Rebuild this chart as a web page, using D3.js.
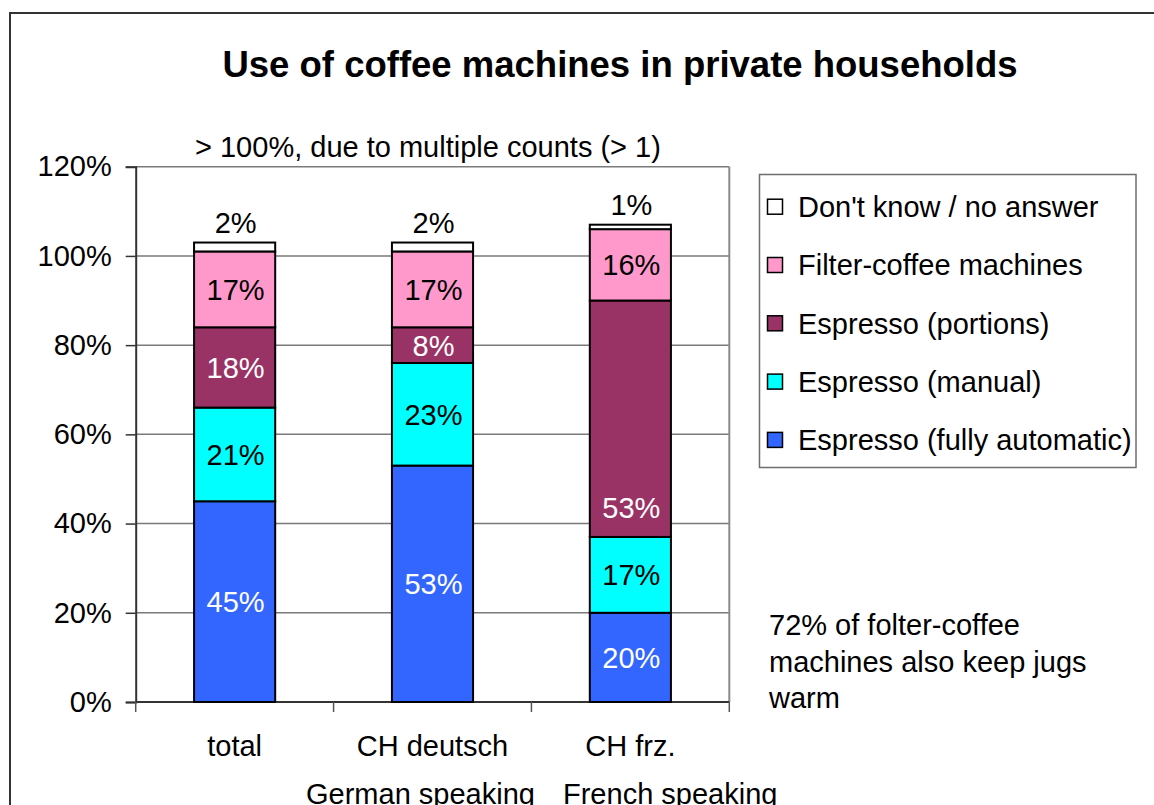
<!DOCTYPE html>
<html>
<head>
<meta charset="utf-8">
<script src="https://cdn.jsdelivr.net/npm/d3@7"></script>
<style>
  html, body { margin: 0; padding: 0; background: #fff; }
  svg { display: block; font-family: "Liberation Sans", Arial, sans-serif; }
</style>
</head>
<body>
<svg id="chart" width="1154" height="805"></svg>
<script>
// ---- data ----
const categories = ["total", "CH deutsch", "CH frz."];
const seriesNames = ["Espresso (fully automatic)", "Espresso (manual)", "Espresso (portions)", "Filter-coffee machines", "Don't know / no answer"];
const fullyAutomatic = [45, 53, 20];
const manual = [21, 23, 17];
const portions = [18, 8, 53];
const filterCoffee = [17, 17, 16];
const dontKnow = [2, 2, 1];
const seriesColors = ["#3366FF", "#00FFFF", "#993366", "#FF99CC", "#FFFFFF"];
const labelColors = ["#FFFFFF", "#000000", "#FFFFFF", "#000000", "#000000"];
const yTicks = [0, 20, 40, 60, 80, 100, 120];
const subLabels = ["German speaking", "French speaking"];
const noteAbove = "> 100%, due to multiple counts (> 1)";
const noteLines = ["72% of folter-coffee", "machines also keep jugs", "warm"];
const title = "Use of coffee machines in private households";

(function () {
const seriesValues = [fullyAutomatic, manual, portions, filterCoffee, dontKnow];
const rows = categories.map((c, i) => {
  const r = { cat: c };
  seriesNames.forEach((s, k) => r[s] = seriesValues[k][i]);
  return r;
});
const stacked = d3.stack().keys(seriesNames)(rows);

const svg = d3.select("#chart");
const FONT = 29;

// outer frame
svg.append("rect").attr("x", 10).attr("y", 13).attr("width", 1300).attr("height", 1000)
  .attr("fill", "none").attr("stroke", "#333").attr("stroke-width", 2);

// title
svg.append("text").attr("x", 620).attr("y", 77).attr("text-anchor", "middle")
  .attr("font-size", 36.5).attr("font-weight", "bold").text(title);

const pLeft = 135.7, pRight = 729.3, pTop = 166.7, pBottom = 702;
const x = d3.scaleBand().domain(categories).range([pLeft, pRight]).paddingInner(0.59).paddingOuter(0.295);
const y = d3.scaleLinear().domain([0, 120]).range([pBottom, pTop]);

// gridlines
svg.append("g").selectAll("line").data(yTicks.filter(t => t > 0)).join("line")
  .attr("x1", pLeft).attr("x2", pRight).attr("y1", d => y(d)).attr("y2", d => y(d))
  .attr("stroke", "#7a7a7a").attr("stroke-width", 1.5);
// right border
svg.append("line").attr("x1", pRight).attr("x2", pRight).attr("y1", pTop).attr("y2", pBottom)
  .attr("stroke", "#8a8a8a").attr("stroke-width", 2);

// y axis
const yAxis = svg.append("g").attr("transform", `translate(${pLeft},0)`)
  .call(d3.axisLeft(y).tickValues(yTicks).tickFormat(d => d + "%").tickSize(10).tickPadding(14));
yAxis.select(".domain").attr("stroke", "#333").attr("stroke-width", 2);
yAxis.selectAll(".tick line").attr("stroke", "#333").attr("stroke-width", 1.5);
yAxis.selectAll(".tick text").attr("font-size", FONT).attr("fill", "#000")
  .attr("font-family", "'Liberation Sans', Arial, sans-serif");

// x axis (ticks at band boundaries)
const bounds = [pLeft].concat(categories.map(c => x(c) + x.bandwidth() + x.step() * x.paddingInner() / 2));
bounds[bounds.length - 1] = pRight;
svg.append("line").attr("x1", pLeft).attr("x2", pRight).attr("y1", pBottom).attr("y2", pBottom)
  .attr("stroke", "#333").attr("stroke-width", 2);
svg.append("g").selectAll("line").data(bounds).join("line")
  .attr("x1", d => d).attr("x2", d => d).attr("y1", pBottom).attr("y2", pBottom + 10)
  .attr("stroke", "#555").attr("stroke-width", 1.5);
svg.append("g").selectAll("text").data(categories).join("text")
  .attr("x", d => x(d) + x.bandwidth() / 2).attr("y", 756).attr("text-anchor", "middle")
  .attr("font-size", FONT).text(d => d);

// bars
const layers = svg.append("g").selectAll("g").data(stacked).join("g")
  .attr("fill", (d, i) => seriesColors[i]);
layers.selectAll("rect").data(d => d).join("rect")
  .attr("x", d => x(d.data.cat)).attr("width", x.bandwidth())
  .attr("y", d => y(d[1])).attr("height", d => y(d[0]) - y(d[1]))
  .attr("stroke", "#000").attr("stroke-width", 2);

// segment labels
stacked.forEach((layer, k) => {
  const g = svg.append("g");
  layer.forEach(d => {
    const v = d[1] - d[0];
    const isTop = k === stacked.length - 1;
    let ly = isTop ? y(d[1]) - 10 : (y(d[0]) + y(d[1])) / 2;
    // the tall "portions" label in the reference sits near the bottom of its segment
    if (k === 2 && v > 40) ly = y(d[0]) - 29;
    g.append("text")
      .attr("x", x(d.data.cat) + x.bandwidth() / 2 + 1)
      .attr("y", ly)
      .attr("dy", isTop ? 0 : "0.36em")
      .attr("text-anchor", "middle").attr("font-size", FONT)
      .attr("fill", labelColors[k]).text(v + "%");
  });
});

// note above
svg.append("text").attr("x", 195).attr("y", 157).attr("font-size", FONT).text(noteAbove);

// legend
const lg = svg.append("g");
lg.append("rect").attr("x", 759.5).attr("y", 174.5).attr("width", 376.5).attr("height", 293)
  .attr("fill", "#fff").attr("stroke", "#6e6e6e").attr("stroke-width", 1.5);
const legendOrder = seriesNames.map((s, i) => i).reverse();
legendOrder.forEach((k, j) => {
  const cy = 206.7 + j * 58.3;
  lg.append("rect").attr("x", 767.5).attr("y", cy - 7.5).attr("width", 15).attr("height", 15)
    .attr("fill", seriesColors[k]).attr("stroke", "#000").attr("stroke-width", 1.5);
  lg.append("text").attr("x", 798).attr("y", cy).attr("dy", "0.36em")
    .attr("font-size", FONT).text(seriesNames[k]);
});

// note bottom right
noteLines.forEach((t, i) => {
  svg.append("text").attr("x", 769).attr("y", 635 + i * 36.5).attr("font-size", FONT).text(t);
});

// sub labels (cut at the bottom edge, as in the reference)
svg.append("text").attr("x", 306).attr("y", 804).attr("font-size", FONT).text(subLabels[0]);
svg.append("text").attr("x", 563).attr("y", 804).attr("font-size", FONT).text(subLabels[1]);
})();
</script>
</body>
</html>
